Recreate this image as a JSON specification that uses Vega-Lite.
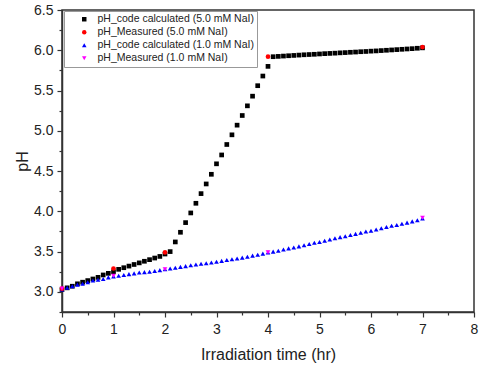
{
  "$schema": "https://vega.github.io/schema/vega-lite/v6.json",
  "width": 412,
  "height": 302,
  "autosize": {"type": "none"},
  "padding": {"left": 62, "top": 10, "right": 6, "bottom": 55},
  "background": "white",
  "config": {
    "view": {"stroke": "#333333", "strokeWidth": 1.5},
    "font": "Liberation Sans",
    "axis": {"domainColor": "#333333", "domainWidth": 1.5, "tickColor": "#333333", "tickWidth": 1.2, "grid": false, "labelFont": "Liberation Sans", "labelFontSize": 14, "labelColor": "#222222", "titleFont": "Liberation Sans", "titleFontSize": 16, "titleFontWeight": "normal", "titleColor": "#222222"}
  },
  "data": {"values": [
    {"t":0.0,"p":3.03,"s":"c5"},{"t":0.1,"p":3.05,"s":"c5"},{"t":0.2,"p":3.07,"s":"c5"},{"t":0.3,"p":3.10,"s":"c5"},{"t":0.4,"p":3.12,"s":"c5"},{"t":0.5,"p":3.14,"s":"c5"},{"t":0.6,"p":3.16,"s":"c5"},{"t":0.7,"p":3.18,"s":"c5"},{"t":0.8,"p":3.21,"s":"c5"},{"t":0.9,"p":3.23,"s":"c5"},{"t":1.0,"p":3.25,"s":"c5"},{"t":1.1,"p":3.28,"s":"c5"},{"t":1.2,"p":3.30,"s":"c5"},{"t":1.3,"p":3.32,"s":"c5"},{"t":1.4,"p":3.34,"s":"c5"},{"t":1.5,"p":3.36,"s":"c5"},{"t":1.6,"p":3.38,"s":"c5"},{"t":1.7,"p":3.40,"s":"c5"},{"t":1.8,"p":3.42,"s":"c5"},{"t":1.9,"p":3.44,"s":"c5"},{"t":2.0,"p":3.47,"s":"c5"},{"t":2.1,"p":3.50,"s":"c5"},
    {"t":2.2,"p":3.62,"s":"c5"},{"t":2.3,"p":3.74,"s":"c5"},{"t":2.4,"p":3.86,"s":"c5"},{"t":2.5,"p":3.98,"s":"c5"},{"t":2.6,"p":4.10,"s":"c5"},{"t":2.7,"p":4.22,"s":"c5"},{"t":2.8,"p":4.34,"s":"c5"},{"t":2.9,"p":4.46,"s":"c5"},{"t":3.0,"p":4.59,"s":"c5"},{"t":3.1,"p":4.70,"s":"c5"},{"t":3.2,"p":4.83,"s":"c5"},{"t":3.3,"p":4.95,"s":"c5"},{"t":3.4,"p":5.07,"s":"c5"},{"t":3.5,"p":5.19,"s":"c5"},{"t":3.6,"p":5.31,"s":"c5"},{"t":3.7,"p":5.43,"s":"c5"},{"t":3.8,"p":5.56,"s":"c5"},{"t":3.9,"p":5.68,"s":"c5"},{"t":4.0,"p":5.80,"s":"c5"},
    {"t":4.1,"p":5.920,"s":"c5"},{"t":4.2,"p":5.924,"s":"c5"},{"t":4.3,"p":5.928,"s":"c5"},{"t":4.4,"p":5.932,"s":"c5"},{"t":4.5,"p":5.936,"s":"c5"},{"t":4.6,"p":5.940,"s":"c5"},{"t":4.7,"p":5.944,"s":"c5"},{"t":4.8,"p":5.947,"s":"c5"},{"t":4.9,"p":5.950,"s":"c5"},{"t":5.0,"p":5.954,"s":"c5"},{"t":5.1,"p":5.958,"s":"c5"},{"t":5.2,"p":5.961,"s":"c5"},{"t":5.3,"p":5.964,"s":"c5"},{"t":5.4,"p":5.968,"s":"c5"},{"t":5.5,"p":5.971,"s":"c5"},{"t":5.6,"p":5.975,"s":"c5"},{"t":5.7,"p":5.978,"s":"c5"},{"t":5.8,"p":5.982,"s":"c5"},{"t":5.9,"p":5.985,"s":"c5"},{"t":6.0,"p":5.989,"s":"c5"},{"t":6.1,"p":5.992,"s":"c5"},{"t":6.2,"p":5.996,"s":"c5"},{"t":6.3,"p":6.000,"s":"c5"},{"t":6.4,"p":6.004,"s":"c5"},{"t":6.5,"p":6.008,"s":"c5"},{"t":6.6,"p":6.012,"s":"c5"},{"t":6.7,"p":6.016,"s":"c5"},{"t":6.8,"p":6.020,"s":"c5"},{"t":6.9,"p":6.025,"s":"c5"},{"t":7.0,"p":6.030,"s":"c5"},
    {"t":0.0,"p":3.03,"s":"c1"},{"t":0.1,"p":3.05,"s":"c1"},{"t":0.2,"p":3.07,"s":"c1"},{"t":0.3,"p":3.09,"s":"c1"},{"t":0.4,"p":3.10,"s":"c1"},{"t":0.5,"p":3.12,"s":"c1"},{"t":0.6,"p":3.14,"s":"c1"},{"t":0.7,"p":3.15,"s":"c1"},{"t":0.8,"p":3.16,"s":"c1"},{"t":0.9,"p":3.18,"s":"c1"},{"t":1.0,"p":3.19,"s":"c1"},{"t":1.1,"p":3.20,"s":"c1"},{"t":1.2,"p":3.21,"s":"c1"},{"t":1.3,"p":3.22,"s":"c1"},{"t":1.4,"p":3.23,"s":"c1"},{"t":1.5,"p":3.24,"s":"c1"},{"t":1.6,"p":3.245,"s":"c1"},{"t":1.7,"p":3.25,"s":"c1"},{"t":1.8,"p":3.26,"s":"c1"},{"t":1.9,"p":3.27,"s":"c1"},{"t":2.0,"p":3.28,"s":"c1"},{"t":2.1,"p":3.29,"s":"c1"},{"t":2.2,"p":3.30,"s":"c1"},{"t":2.3,"p":3.31,"s":"c1"},{"t":2.4,"p":3.32,"s":"c1"},{"t":2.5,"p":3.33,"s":"c1"},{"t":2.6,"p":3.34,"s":"c1"},{"t":2.7,"p":3.35,"s":"c1"},{"t":2.8,"p":3.355,"s":"c1"},{"t":2.9,"p":3.365,"s":"c1"},{"t":3.0,"p":3.375,"s":"c1"},{"t":3.1,"p":3.385,"s":"c1"},{"t":3.2,"p":3.395,"s":"c1"},{"t":3.3,"p":3.405,"s":"c1"},{"t":3.4,"p":3.415,"s":"c1"},{"t":3.5,"p":3.425,"s":"c1"},{"t":3.6,"p":3.435,"s":"c1"},{"t":3.7,"p":3.45,"s":"c1"},{"t":3.8,"p":3.46,"s":"c1"},{"t":3.9,"p":3.475,"s":"c1"},{"t":4.0,"p":3.49,"s":"c1"},{"t":4.1,"p":3.50,"s":"c1"},{"t":4.2,"p":3.51,"s":"c1"},{"t":4.3,"p":3.525,"s":"c1"},{"t":4.4,"p":3.54,"s":"c1"},{"t":4.5,"p":3.55,"s":"c1"},{"t":4.6,"p":3.565,"s":"c1"},{"t":4.7,"p":3.58,"s":"c1"},{"t":4.8,"p":3.595,"s":"c1"},{"t":4.9,"p":3.61,"s":"c1"},{"t":5.0,"p":3.62,"s":"c1"},{"t":5.1,"p":3.635,"s":"c1"},{"t":5.2,"p":3.65,"s":"c1"},{"t":5.3,"p":3.665,"s":"c1"},{"t":5.4,"p":3.68,"s":"c1"},{"t":5.5,"p":3.69,"s":"c1"},{"t":5.6,"p":3.705,"s":"c1"},{"t":5.7,"p":3.72,"s":"c1"},{"t":5.8,"p":3.735,"s":"c1"},{"t":5.9,"p":3.75,"s":"c1"},{"t":6.0,"p":3.76,"s":"c1"},{"t":6.1,"p":3.775,"s":"c1"},{"t":6.2,"p":3.79,"s":"c1"},{"t":6.3,"p":3.805,"s":"c1"},{"t":6.4,"p":3.82,"s":"c1"},{"t":6.5,"p":3.83,"s":"c1"},{"t":6.6,"p":3.845,"s":"c1"},{"t":6.7,"p":3.86,"s":"c1"},{"t":6.8,"p":3.875,"s":"c1"},{"t":6.9,"p":3.89,"s":"c1"},{"t":7.0,"p":3.91,"s":"c1"},
    {"t":0,"p":3.04,"s":"m5"},{"t":1,"p":3.29,"s":"m5"},{"t":2,"p":3.49,"s":"m5"},{"t":4,"p":5.92,"s":"m5"},{"t":7,"p":6.04,"s":"m5"},
    {"t":0,"p":3.04,"s":"m1"},{"t":1,"p":3.20,"s":"m1"},{"t":2,"p":3.28,"s":"m1"},{"t":4,"p":3.49,"s":"m1"},{"t":7,"p":3.92,"s":"m1"}
  ]},
  "mark": {"type": "point", "filled": true, "opacity": 1, "size": 22},
  "encoding": {
    "x": {"field": "t", "type": "quantitative", "title": "Irradiation time (hr)",
      "scale": {"domain": [0, 8], "nice": false, "zero": false},
      "axis": {"values": [0,0.5,1,1.5,2,2.5,3,3.5,4,4.5,5,5.5,6,6.5,7,7.5,8],
        "labelExpr": "datum.value % 1 === 0 ? format(datum.value, 'd') : ''",
        "tickSize": {"condition": {"test": "datum.value % 1 !== 0", "value": 3}, "value": 5},
        "labelPadding": 5, "titlePadding": 10, "labelFlush": false}},
    "y": {"field": "p", "type": "quantitative", "title": "pH",
      "scale": {"domain": [2.75, 6.5], "nice": false, "zero": false},
      "axis": {"values": [2.75,3,3.25,3.5,3.75,4,4.25,4.5,4.75,5,5.25,5.5,5.75,6,6.25,6.5],
        "labelExpr": "(datum.value * 2) % 1 === 0 ? format(datum.value, '.1f') : ''",
        "tickSize": {"condition": {"test": "(datum.value * 2) % 1 !== 0", "value": 3}, "value": 5},
        "labelPadding": 4, "titlePadding": 3, "labelFlush": false}},
    "color": {"field": "s", "type": "nominal",
      "scale": {"domain": ["c5","m5","c1","m1"], "range": ["#000000","#ff0000","#0000ff","#ff00ff"]},
      "legend": {"title": null, "orient": "none", "legendX": 2, "legendY": 1,
        "labelExpr": "{'c5':'pH_code calculated (5.0 mM NaI)','m5':'pH_Measured (5.0 mM NaI)','c1':'pH_code calculated (1.0 mM NaI)','m1':'pH_Measured (1.0 mM NaI)'}[datum.value]",
        "strokeColor": "#999999", "fillColor": "white", "padding": 3, "labelFontSize": 10.5, "labelFont": "Liberation Sans", "labelColor": "#222222",
        "symbolOffset": 12, "labelOffset": 8, "rowPadding": 2, "symbolSize": 20, "labelLimit": 300}},
    "shape": {"field": "s", "type": "nominal",
      "scale": {"domain": ["c5","m5","c1","m1"], "range": ["square","circle","triangle-up","triangle-down"]}}
  }
}
